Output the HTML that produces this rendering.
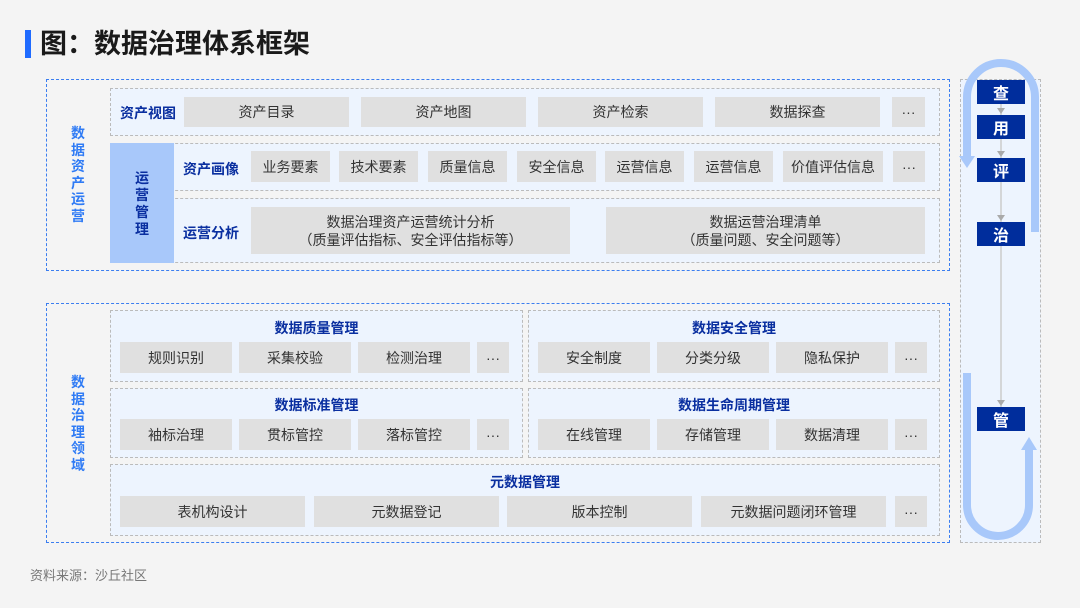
<!DOCTYPE html>
<html><head><meta charset="utf-8"><style>
*{margin:0;padding:0;box-sizing:border-box}
body{width:1080px;height:608px;background:#f4f4f4;position:relative;overflow:hidden;font-family:"Liberation Sans","Noto Sans CJK SC",sans-serif}
.a{position:absolute}
.ob{position:absolute;border:1.5px dashed #3b7ef0}
.db{position:absolute;border:1.5px dashed #bbb;background:#edf4fe}
.it{position:absolute;background:#e0e0e0;color:#333;font-size:14px;display:flex;align-items:center;justify-content:center;text-align:center;line-height:18px}
.lb{position:absolute;color:#0a2fa0;font-weight:bold;font-size:14px}
.vt{position:absolute;color:#2f7bf5;font-weight:bold;font-size:14px;width:16px;line-height:16.5px;text-align:center}
.nd{position:absolute;left:977px;width:48px;height:24px;background:#002d9c;color:#fff;font-weight:bold;font-size:16px;display:flex;align-items:center;justify-content:center}
</style></head><body>
<div class="a" style="left:25px;top:30px;width:6px;height:28px;background:#1f6bff"></div>
<div class="a" style="left:40px;top:26px;font-size:27px;font-weight:bold;color:#1a1a1a;line-height:36px">图：数据治理体系框架</div>

<div class="ob" style="left:46px;top:79px;width:904px;height:192px"></div>
<div class="vt" style="left:70px;top:125px">数据资产运营</div>
<div class="db" style="left:110px;top:88px;width:830px;height:48px"></div>
<div class="lb" style="left:120px;top:103px">资产视图</div>
<div class="it" style="left:184px;top:97px;width:165px;height:30px">资产目录</div>
<div class="it" style="left:361px;top:97px;width:165px;height:30px">资产地图</div>
<div class="it" style="left:538px;top:97px;width:165px;height:30px">资产检索</div>
<div class="it" style="left:715px;top:97px;width:165px;height:30px">数据探查</div>
<div class="it" style="left:892px;top:97px;width:33px;height:30px">···</div>
<div class="db" style="left:110px;top:143px;width:830px;height:48px"></div>
<div class="db" style="left:110px;top:198px;width:830px;height:65px"></div>
<div class="a" style="left:110px;top:143px;width:64px;height:120px;background:#a8c8fa"></div>
<div class="vt" style="left:134px;top:170px;color:#0a2fa0;line-height:17px">运营管理</div>
<div class="lb" style="left:183px;top:159px">资产画像</div>
<div class="it" style="left:251px;top:151px;width:79px;height:31px">业务要素</div>
<div class="it" style="left:339px;top:151px;width:79px;height:31px">技术要素</div>
<div class="it" style="left:428px;top:151px;width:79px;height:31px">质量信息</div>
<div class="it" style="left:517px;top:151px;width:79px;height:31px">安全信息</div>
<div class="it" style="left:605px;top:151px;width:79px;height:31px">运营信息</div>
<div class="it" style="left:694px;top:151px;width:79px;height:31px">运营信息</div>
<div class="it" style="left:783px;top:151px;width:100px;height:31px">价值评估信息</div>
<div class="it" style="left:893px;top:151px;width:32px;height:31px">···</div>
<div class="lb" style="left:183px;top:223px">运营分析</div>
<div class="it" style="left:251px;top:207px;width:319px;height:47px">数据治理资产运营统计分析<br>（质量评估指标、安全评估指标等）</div>
<div class="it" style="left:606px;top:207px;width:319px;height:47px">数据运营治理清单<br>（质量问题、安全问题等）</div>

<div class="ob" style="left:46px;top:303px;width:904px;height:240px"></div>
<div class="vt" style="left:70px;top:374px">数据治理领域</div>
<div class="db" style="left:110px;top:310px;width:413px;height:72px"></div>
<div class="db" style="left:528px;top:310px;width:412px;height:72px"></div>
<div class="db" style="left:110px;top:388px;width:413px;height:70px"></div>
<div class="db" style="left:528px;top:388px;width:412px;height:70px"></div>
<div class="db" style="left:110px;top:464px;width:830px;height:72px"></div>
<div class="lb" style="left:110px;width:413px;text-align:center;top:318px">数据质量管理</div>
<div class="lb" style="left:528px;width:412px;text-align:center;top:318px">数据安全管理</div>
<div class="lb" style="left:110px;width:413px;text-align:center;top:395px">数据标准管理</div>
<div class="lb" style="left:528px;width:412px;text-align:center;top:395px">数据生命周期管理</div>
<div class="lb" style="left:110px;width:830px;text-align:center;top:472px">元数据管理</div>
<div class="it" style="left:120px;top:342px;width:112px;height:31px">规则识别</div>
<div class="it" style="left:239px;top:342px;width:112px;height:31px">采集校验</div>
<div class="it" style="left:358px;top:342px;width:112px;height:31px">检测治理</div>
<div class="it" style="left:477px;top:342px;width:32px;height:31px">···</div>
<div class="it" style="left:538px;top:342px;width:112px;height:31px">安全制度</div>
<div class="it" style="left:657px;top:342px;width:112px;height:31px">分类分级</div>
<div class="it" style="left:776px;top:342px;width:112px;height:31px">隐私保护</div>
<div class="it" style="left:895px;top:342px;width:32px;height:31px">···</div>
<div class="it" style="left:120px;top:419px;width:112px;height:31px">袖标治理</div>
<div class="it" style="left:239px;top:419px;width:112px;height:31px">贯标管控</div>
<div class="it" style="left:358px;top:419px;width:112px;height:31px">落标管控</div>
<div class="it" style="left:477px;top:419px;width:32px;height:31px">···</div>
<div class="it" style="left:538px;top:419px;width:112px;height:31px">在线管理</div>
<div class="it" style="left:657px;top:419px;width:112px;height:31px">存储管理</div>
<div class="it" style="left:776px;top:419px;width:112px;height:31px">数据清理</div>
<div class="it" style="left:895px;top:419px;width:32px;height:31px">···</div>
<div class="it" style="left:120px;top:496px;width:185px;height:31px">表机构设计</div>
<div class="it" style="left:314px;top:496px;width:185px;height:31px">元数据登记</div>
<div class="it" style="left:507px;top:496px;width:185px;height:31px">版本控制</div>
<div class="it" style="left:701px;top:496px;width:185px;height:31px">元数据问题闭环管理</div>
<div class="it" style="left:895px;top:496px;width:32px;height:31px">···</div>

<div class="db" style="left:960px;top:79px;width:81px;height:464px"></div>
<svg class="a" style="left:0;top:0" width="1080" height="608">
<line x1="1001" y1="104" x2="1001" y2="407" stroke="#ccc" stroke-width="1.5"/>
<g fill="#aaa"><polygon points="997,108 1005,108 1001,114"/><polygon points="997,151 1005,151 1001,157"/><polygon points="997,215 1005,215 1001,221"/><polygon points="997,400 1005,400 1001,406"/></g>
<path d="M1035,232 V97 A34,34 0 0 0 967,97 V158" fill="none" stroke="#a8c8fa" stroke-width="8"/>
<polygon points="959,156 975,156 967,168" fill="#a8c8fa"/>
<path d="M967,373 V505 A31,31 0 0 0 1029,505 V448" fill="none" stroke="#a8c8fa" stroke-width="8"/>
<polygon points="1021,450 1037,450 1029,437" fill="#a8c8fa"/>
</svg>
<div class="nd" style="top:80px">查</div>
<div class="nd" style="top:115px">用</div>
<div class="nd" style="top:158px">评</div>
<div class="nd" style="top:222px">治</div>
<div class="nd" style="top:407px">管</div>
<div class="a" style="left:30px;top:565px;font-size:13px;color:#777">资料来源：沙丘社区</div>
</body></html>
